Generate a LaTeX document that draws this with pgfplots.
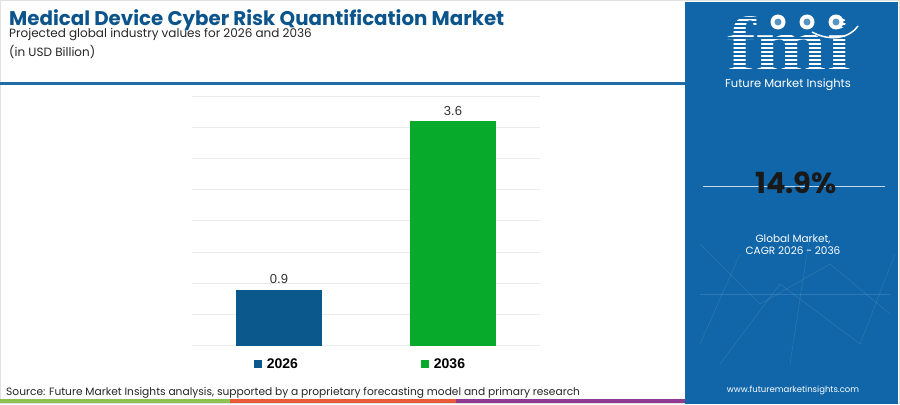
\documentclass[border=0pt]{standalone}
\usepackage{pgfplots}
\pgfplotsset{compat=1.18}
\usepackage{fontspec}
\setmainfont{Poppins}
\newfontfamily\arialf{Liberation Sans}
\newfontfamily\seriff{Liberation Serif}
\definecolor{panel}{RGB}{16,102,168}
\definecolor{hdr}{RGB}{30,108,170}
\definecolor{titleblue}{RGB}{11,84,140}
\definecolor{cA}{RGB}{10,88,140}
\definecolor{cB}{RGB}{8,170,44}
\definecolor{sgreen}{RGB}{141,193,82}
\definecolor{sorange}{RGB}{233,90,60}
\definecolor{spurple}{RGB}{142,58,142}
\begin{document}
\begin{tikzpicture}[x=1bp,y=1bp]
\useasboundingbox (0,0) rectangle (900,404);
\fill[white] (0,0) rectangle (900,404);
\draw[black!12, line width=1.5bp] (0.75,0.75) rectangle (899.25,403.25);
% header texts
\node[anchor=base west, inner sep=0, text=titleblue, font=\bfseries\fontsize{19.8bp}{22bp}\selectfont] at (9,379) {Medical Device Cyber Risk Quantification Market};
\node[anchor=base west, inner sep=0, text=black!85, font=\fontsize{12bp}{14bp}\selectfont] at (9,366.3) {Projected global industry values for 2026 and 2036};
\node[anchor=base west, inner sep=0, text=black!85, font=\fontsize{12bp}{14bp}\selectfont] at (9,347.3) {(in USD Billion)};
\fill[hdr] (0,319) rectangle (685,322);
% bottom strip
\fill[sgreen] (0,1) rectangle (230,5);
\fill[sorange] (230,1) rectangle (456,5);
\fill[spurple] (456,1) rectangle (685,5);
\node[anchor=base west, inner sep=0, text=black!85, font=\fontsize{10.65bp}{13bp}\selectfont] at (6,9) {Source: Future Market Insights analysis, supported by a proprietary forecasting model and primary research};
% right panel
\fill[panel] (685,0) rectangle (898,402);
\begin{scope}
\clip (685,0) rectangle (898,402);
\foreach \a/\b/\c/\d in {700/160/760/100, 760/100/830/140, 830/140/890/90, 720/40/780/120, 780/120/860/60, 860/60/895/150, 740/150/700/60, 810/170/790/40, 700/110/890/110}{
  \draw[white, opacity=0.12, line width=0.5bp] (\a,\b) -- (\c,\d);
}
\end{scope}
\node[anchor=base, inner sep=0, text=white, font=\seriff\bfseries\fontsize{78bp}{80bp}\selectfont, xscale=1.10] at (789,333) {fmi};
\foreach \yy in {18,22,...,72}{
  \draw[panel, line width=1.1bp] (715,404-\yy) -- (865,404-\yy);
}
\foreach \cx in {778,807,836}{
  \fill[white] (\cx,382) circle (7.5);
  \fill[panel!70] (\cx,382) circle (3.5);
}
\draw[white, line width=1.5bp] (812,372) .. controls (830,362) and (850,366) .. (858,378);
\node[anchor=base, inner sep=0, text=white, font=\fontsize{11.5bp}{13bp}\selectfont] at (788,317) {Future Market Insights};
\draw[white!75!panel, line width=1.5bp] (703,217.3) -- (885,217.3);
\node[anchor=base, inner sep=0, text=black!90, font=\bfseries\fontsize{29bp}{32bp}\selectfont] at (796,211) {14.9\%};
\node[anchor=base, inner sep=0, text=white, font=\fontsize{10.5bp}{13bp}\selectfont] at (793,162) {Global Market,};
\node[anchor=base, inner sep=0, text=white, font=\fontsize{10.5bp}{13bp}\selectfont] at (793,150) {CAGR 2026 - 2036};
\node[anchor=base, inner sep=0, text=white, font=\fontsize{8.5bp}{10bp}\selectfont] at (793,12) {www.futuremarketinsights.com};
% chart
\begin{axis}[
  at={(192bp,58.3bp)}, anchor=south west, scale only axis,
  width=348bp, height=249.7bp,
  xmin=-0.5, xmax=1.5, ymin=0, ymax=4,
  ytick={0,0.5,...,4}, yticklabels={}, xtick=\empty,
  ytick style={draw=none},
  ymajorgrids, grid style={black!8, line width=0.8bp},
  axis line style={draw=none},
  ybar, bar width=86.5bp, bar shift=0pt,
  /pgf/number format/assume math mode=true,
  /pgf/number format/fixed, /pgf/number format/precision=1,
  /pgf/number format/fixed zerofill,
  nodes near coords,
  nodes near coords style={font=\arialf\fontsize{13bp}{15bp}\selectfont, text=black!80, yshift=2bp},
  legend style={at={(0.484,-0.073)}, anchor=center, draw=none, fill=none,
    font=\arialf\bfseries\fontsize{14bp}{16bp}\selectfont,
    /tikz/every even column/.append style={column sep=121bp}},
  legend columns=2,
]
\addplot[fill=cA, draw=none, legend image code/.code={\fill[cA] (0bp,-4.5bp) rectangle (8bp,3.5bp); \path (11bp,0bp);}] coordinates {(0,0.9)};
\addlegendentry{2026}
\addplot[fill=cB, draw=none, legend image code/.code={\fill[cB] (0bp,-4.5bp) rectangle (8bp,3.5bp); \path (11bp,0bp);}] coordinates {(1,3.6)};
\addlegendentry{2036}
\end{axis}
\end{tikzpicture}
\end{document}
